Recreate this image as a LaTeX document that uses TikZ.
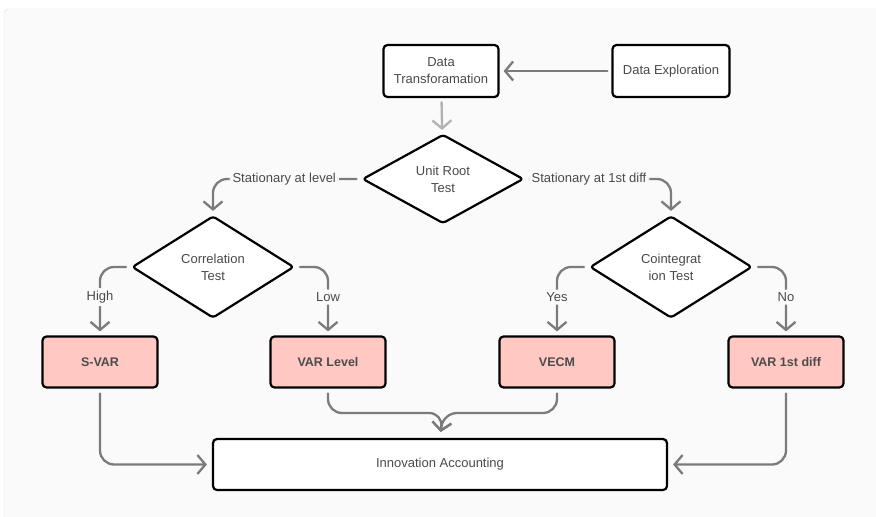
\documentclass[tikz,border=0pt]{standalone}
\usepackage{fontspec}
\setmainfont{Liberation Sans}
\usetikzlibrary{arrows.meta,shapes.geometric}
\definecolor{bgc}{HTML}{FAFAFA}
\definecolor{edgec}{HTML}{7B7B7B}
\definecolor{txtc}{HTML}{4A4A4A}
\definecolor{pinkc}{HTML}{FFC8C3}

\begin{document}
\begin{tikzpicture}[x=1pt,y=-1pt,>={Straight Barb[length=8pt,width=19pt]},line cap=round,line join=round,
  box/.style={draw=black,line width=2.2pt,rounded corners=4pt,fill=white,text=txtc,align=center,inner sep=0pt,font=\fontsize{13}{17}\selectfont},
  result/.style={box,fill=pinkc,font=\bfseries\fontsize{12.5}{15}\selectfont,text=black!70},
  decision/.style={box,diamond,rounded corners=3pt,minimum width=162pt,minimum height=102pt},
  conn/.style={draw=edgec,line width=2.3pt,rounded corners=14pt},
  lbl/.style={fill=bgc,text=txtc,inner sep=3pt,font=\fontsize{13}{15}\selectfont}]
% background
\useasboundingbox (0,0) rectangle (876,517);
\fill[white] (0,0) rectangle (876,517);
\draw[fill=bgc,draw=black!10,rounded corners=4pt] (4,9) rectangle (880,521);
% nodes
\node[box,minimum width=115pt,minimum height=52pt] (trans) at (441,71) {Data\\Transforamation};
\node[box,minimum width=117pt,minimum height=52pt] (expl) at (671,71) {Data Exploration};
\node[decision,minimum width=161pt,minimum height=89pt] (urt) at (443,179) {Unit Root\\Test};
\node[decision] (corr) at (213,267) {Correlation\\Test};
\node[decision] (coint) at (671,267) {Cointegrat\\ion Test};
\node[result,minimum width=115pt,minimum height=51pt] (svar) at (100,362) {S-VAR};
\node[result,minimum width=115pt,minimum height=51pt] (varl) at (328,362) {VAR Level};
\node[result,minimum width=115pt,minimum height=51pt] (vecm) at (557,362) {VECM};
\node[result,minimum width=115pt,minimum height=51pt] (vard) at (786,362) {VAR 1st diff};
\node[box,minimum width=454pt,minimum height=51pt] (ia) at (440,464.5) {Innovation Accounting};
\coordinate (mrg) at (443,413);
% connectors
\draw[conn,->,shorten >=4pt,shorten <=4pt] (expl) -- (trans);
\draw[conn,->,draw=black!30,shorten >=4pt,shorten <=4pt] (trans) -- (urt);
\draw[conn,->,shorten >=4pt,shorten <=5pt] (urt.west) -| (corr.north) node[lbl,pos=0.26] {Stationary at level};
\draw[conn,->,shorten >=4pt,shorten <=5pt] (urt.east) -| (coint.north) node[lbl,pos=0.22] {Stationary at 1st diff};
\draw[conn,->,shorten >=4pt,shorten <=5pt] (corr.west) -| (svar.north) node[lbl,pos=0.72] {High};
\draw[conn,->,shorten >=4pt,shorten <=5pt] (corr.east) -| (varl.north) node[lbl,pos=0.72] {Low};
\draw[conn,->,shorten >=4pt,shorten <=5pt] (coint.west) -| (vecm.north) node[lbl,pos=0.72] {Yes};
\draw[conn,->,shorten >=4pt,shorten <=5pt] (coint.east) -| (vard.north) node[lbl,pos=0.72] {No};
\draw[conn,->,shorten >=5pt,shorten <=5pt] (svar.south) |- (ia.west);
\draw[conn,->,shorten >=5pt,shorten <=5pt] (vard.south) |- (ia.east);
\draw[conn,->,shorten >=6pt,shorten <=5pt] (varl.south) |- (mrg) -- (ia.north);
\draw[conn,->,shorten >=6pt,shorten <=5pt] (vecm.south) |- (mrg) -- (ia.north);
\end{tikzpicture}
\end{document}
